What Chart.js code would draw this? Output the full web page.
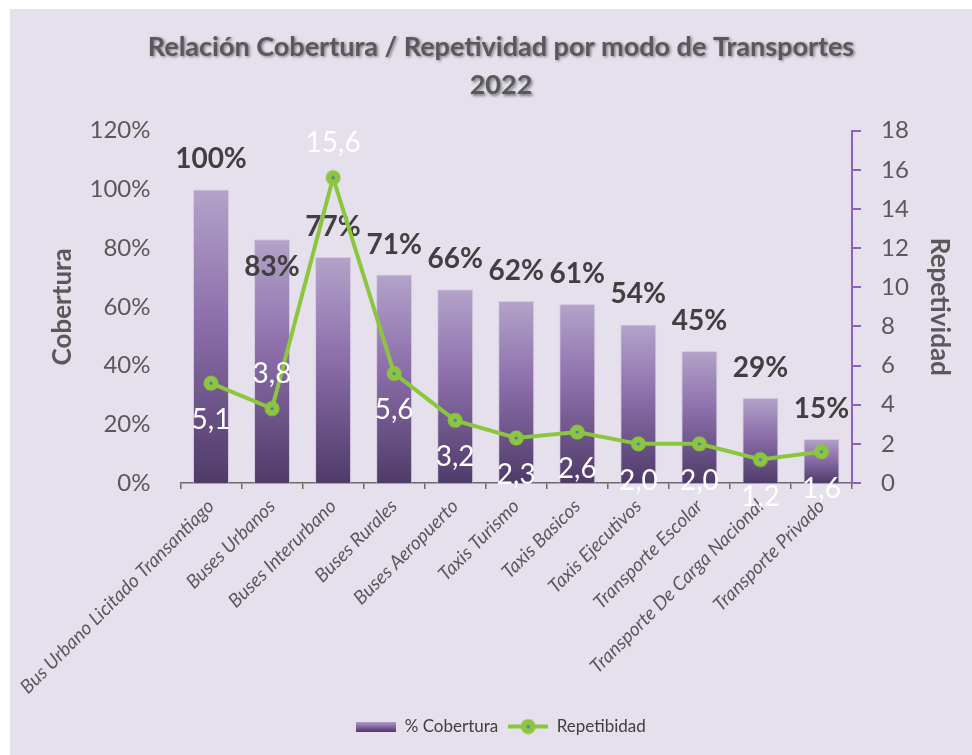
<!DOCTYPE html>
<html>
<head>
<meta charset="utf-8">
<script src="https://cdn.jsdelivr.net/npm/chart.js@4.4.1/dist/chart.umd.min.js"></script>
<style>
  body { margin: 0; background: #ffffff; }
  #wrap { position: absolute; left: 10px; top: 9px; width: 962px; height: 746px; background: #e5e0ec; }
</style>
</head>
<body>
<div id="wrap"><canvas id="chart" width="962" height="746"></canvas></div>
<script>
// --- DATA ---
const categories = [
    'Bus Urbano Licitado Transantiago', 'Buses Urbanos', 'Buses Interurbano', 'Buses Rurales',
    'Buses Aeropuerto', 'Taxis Turismo', 'Taxis Basicos', 'Taxis Ejecutivos',
    'Transporte Escolar', 'Transporte De Carga Nacional', 'Transporte Privado'
];
const cobertura = [100, 83, 77, 71, 66, 62, 61, 54, 45, 29, 15];
const repetibidad = [5.1, 3.8, 15.6, 5.6, 3.2, 2.3, 2.6, 2.0, 2.0, 1.2, 1.6];
const coberturaTicks = [0, 20, 40, 60, 80, 100, 120];
const repetTicks = [0, 2, 4, 6, 8, 10, 12, 14, 16, 18];

// --- ESTILO ---
const GREY = '#595959';
const GREEN = '#8cc63f';
const PURPLE_AXIS = '#8f5fbf';
const FONT = 'Lato';

// etiquetas que van debajo / encima (como en el original)
const barLabelBelow = [1];
const lineLabelAbove = [1, 2];

function fmtComa(v) { return v.toFixed(1).replace('.', ','); }

function barGradient(ctx, top, base) {
    const g = ctx.createLinearGradient(0, top, 0, base);
    g.addColorStop(0, '#b3a3c9');
    g.addColorStop(0.45, '#8c6eab');
    g.addColorStop(1, '#4f3b68');
    return g;
}

// marcador: círculo verde con punto azul
function makeMarker() {
    const c = document.createElement('canvas');
    c.width = 18; c.height = 18;
    const x = c.getContext('2d');
    x.fillStyle = GREEN;
    x.beginPath(); x.arc(9, 9, 7.5, 0, Math.PI * 2); x.fill();
    x.fillStyle = '#4a6fd0';
    x.beginPath(); x.arc(9, 9, 1.6, 0, Math.PI * 2); x.fill();
    return c;
}

function makeBarSwatch() {
    const c = document.createElement('canvas');
    c.width = 40; c.height = 10;
    const x = c.getContext('2d');
    x.fillStyle = barGradient(x, 0, 10);
    x.fillRect(0, 0, 40, 10);
    return c;
}

function makeLineSwatch() {
    const c = document.createElement('canvas');
    c.width = 40; c.height = 16;
    const x = c.getContext('2d');
    x.strokeStyle = GREEN; x.lineWidth = 4;
    x.beginPath(); x.moveTo(0, 8); x.lineTo(40, 8); x.stroke();
    x.drawImage(makeMarker(), 11, -1);
    return c;
}

const marker = makeMarker();

// --- PLUGINS ---
const valueLabels = {
    id: 'valueLabels',
    afterDatasetDraw(chart, args) {
        if (args.index !== 0) return;
        const ctx = chart.ctx;
        ctx.save();
        ctx.font = `700 28px ${FONT}`;
        ctx.fillStyle = '#404040';
        ctx.textAlign = 'center';
        ctx.textBaseline = 'middle';
        args.meta.data.forEach((el, i) => {
            const dy = barLabelBelow.includes(i) ? 28 : -30;
            ctx.fillText(cobertura[i] + '%', el.x, el.y + dy);
        });
        ctx.restore();
    },
    afterDatasetsDraw(chart) {
        const ctx = chart.ctx;
        const meta = chart.getDatasetMeta(1);
        ctx.save();
        ctx.font = `400 28px ${FONT}`;
        ctx.fillStyle = '#ffffff';
        ctx.textAlign = 'center';
        ctx.textBaseline = 'middle';
        meta.data.forEach((pt, i) => {
            const dy = lineLabelAbove.includes(i) ? -35 : 37;
            ctx.fillText(fmtComa(repetibidad[i]), pt.x, pt.y + dy);
        });
        ctx.restore();
    }
};

// sombra del título
const titleShadow = {
    id: 'titleShadow',
    beforeDraw(chart) {
        const tb = chart.titleBlock;
        if (!tb || tb._shadowed) return;
        const orig = tb.draw.bind(tb);
        tb.draw = function () {
            const ctx = chart.ctx;
            ctx.save();
            ctx.shadowColor = 'rgba(0,0,0,0.45)';
            ctx.shadowBlur = 3;
            ctx.shadowOffsetX = 1.5;
            ctx.shadowOffsetY = 1.5;
            orig();
            ctx.restore();
        };
        tb._shadowed = true;
    }
};

// --- CHART ---
const ctx = document.getElementById('chart').getContext('2d');
new Chart(ctx, {
    data: {
        labels: categories,
        datasets: [{
            type: 'bar',
            label: '% Cobertura',
            data: cobertura,
            yAxisID: 'y',
            order: 1,
            backgroundColor: (c) => {
                const chart = c.chart;
                if (!chart.chartArea || c.raw === undefined) return '#7f63a0';
                const y = chart.scales.y;
                return barGradient(chart.ctx, y.getPixelForValue(c.raw), y.getPixelForValue(0));
            },
            borderColor: 'rgba(205,192,222,0.7)',
            borderWidth: 1,
            categoryPercentage: 1,
            barPercentage: 0.59
        }, {
            type: 'line',
            label: 'Repetibidad',
            data: repetibidad,
            yAxisID: 'y1',
            order: 0,
            borderColor: GREEN,
            borderWidth: 4,
            pointStyle: marker,
            pointRadius: 8,
            tension: 0
        }]
    },
    options: {
        responsive: false,
        animation: false,
        layout: { padding: { left: 20, right: 0, top: 0, bottom: 10 } },
        plugins: {
            title: {
                display: true,
                text: ['Relación Cobertura / Repetividad por modo de Transportes', '2022'],
                color: GREY,
                font: { family: FONT, size: 27, weight: 'bold', lineHeight: 1.42 },
                padding: { top: 19, bottom: 26 }
            },
            legend: {
                position: 'bottom',
                labels: {
                    usePointStyle: true,
                    pointStyleWidth: 40,
                    color: '#404040',
                    font: { family: FONT, size: 17 },
                    padding: 10,
                    generateLabels(chart) {
                        const sw = [makeBarSwatch(), makeLineSwatch()];
                        return chart.data.datasets.map((d, i) => ({
                            text: d.label,
                            pointStyle: sw[i],
                            fontColor: '#404040',
                            datasetIndex: i,
                            lineWidth: 0,
                            hidden: false
                        }));
                    }
                }
            },
            tooltip: { enabled: false }
        },
        scales: {
            x: {
                afterFit(scale) {
                    const lg = scale.chart.legend;
                    scale.height = 746 - 474 - 10 - (lg && lg.height ? lg.height : 35);
                },
                grid: { offset: true, drawOnChartArea: false, tickLength: 6, color: '#6a6a6a', lineWidth: 1.5 },
                border: { display: true, color: '#6a6a6a', width: 1.5 },
                ticks: {
                    minRotation: 45, maxRotation: 45, autoSkip: false, padding: 6,
                    color: GREY,
                    font: { family: FONT, size: 19, style: 'italic' }
                }
            },
            y: {
                position: 'left',
                min: 0, max: 120,
                afterFit(scale) { scale.width = 150; },
                afterBuildTicks(scale) { scale.ticks = coberturaTicks.map(v => ({ value: v })); },
                grid: { display: false, drawTicks: false },
                border: { display: false },
                ticks: {
                    padding: 30,
                    color: GREY,
                    font: { family: FONT, size: 24 },
                    callback: (v) => v + '%'
                },
                title: {
                    display: true, text: 'Cobertura', color: GREY,
                    font: { family: FONT, size: 26, weight: 'bold' },
                    padding: { top: 17, bottom: 0 }
                }
            },
            y1: {
                position: 'right',
                min: 0, max: 18,
                afterFit(scale) { scale.width = 120; },
                afterBuildTicks(scale) { scale.ticks = repetTicks.map(v => ({ value: v })); },
                grid: { drawOnChartArea: false, tickLength: 9, color: PURPLE_AXIS, lineWidth: 2 },
                border: { display: true, color: PURPLE_AXIS, width: 2 },
                ticks: {
                    padding: 20,
                    color: GREY,
                    font: { family: FONT, size: 24 }
                },
                title: {
                    display: true, text: 'Repetividad', color: GREY,
                    font: { family: FONT, size: 26, weight: 'bold' },
                    padding: { top: 17, bottom: 0 }
                }
            }
        }
    },
    plugins: [valueLabels, titleShadow]
});
</script>
</body>
</html>
